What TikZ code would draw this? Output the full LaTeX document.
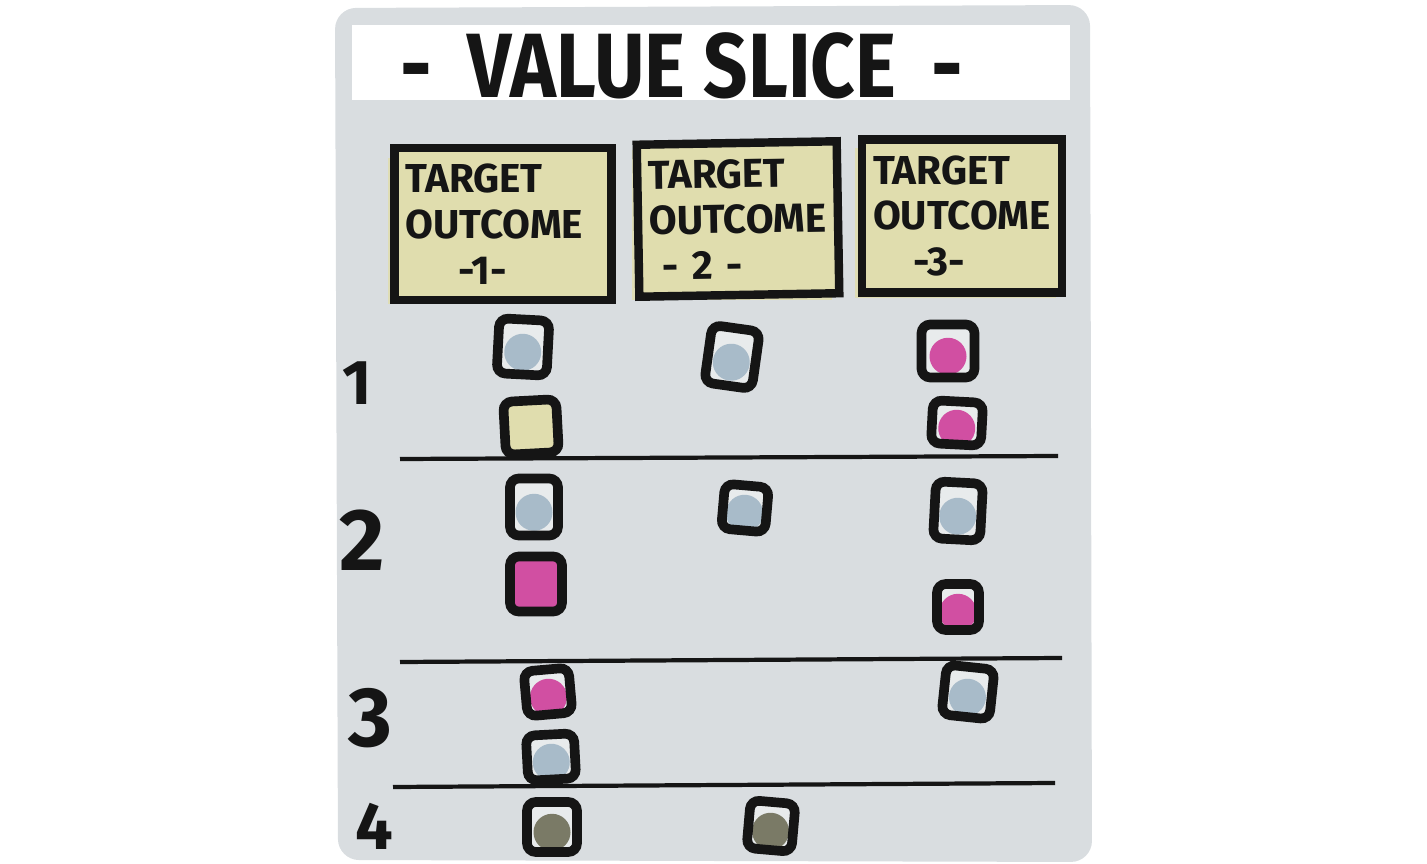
\documentclass[tikz,border=0pt]{standalone}
\usepackage{fontspec}
\setmainfont{Fira Sans}
\begin{document}
\definecolor{board}{HTML}{D9DDE0}
\definecolor{ink}{HTML}{151515}
\definecolor{cardyellow}{HTML}{E0DDAE}
\definecolor{chipblue}{HTML}{A8BBC9}
\definecolor{chippink}{HTML}{D14FA2}
\definecolor{chipolive}{HTML}{7A7A66}
\begin{tikzpicture}[x=0.02cm,y=-0.02cm,
  hand/.style={font=\bfseries, text=ink},
  target/.style={draw=ink, fill=cardyellow, line width=4.8pt, inner xsep=0.22cm,
    align=left, font=\bfseries\fontsize{23}{26}\selectfont, text=ink},
  halo/.style={fill=cardyellow!85!board},
  chip/.style={draw=ink, line width=5.5pt, rounded corners=5pt, fill=white!40!board,
    inner sep=0pt,
    path picture={\fill[#1] ([yshift=-3pt]path picture bounding box.center) circle (0.37cm);}},
  rule/.style={draw=ink, line width=2.4pt}
]
\useasboundingbox (0,0) rectangle (1427,864);

% the board and its title band
\fill[board, rounded corners=12pt] (335,8) -- (1090,5) -- (1092,862) -- (338,860) -- cycle;
\fill[white] (352,25) rectangle (1070,100);
\node[hand, font=\bfseries\fontsize{52}{56}\selectfont, xscale=0.85] (title) at (682,66)
  {-\hspace{0.45em}VALUE SLICE\hspace{0.45em}-};

% target outcome cards with their soft yellow wash
\fill[halo] (388,158) rectangle (606,304);
\fill[halo] (632,150) rectangle (832,300);
\fill[halo] (855,148) rectangle (1056,298);
\node[target, minimum width=4.34cm, minimum height=3.04cm, text width=3.9cm] (t1) at (503,224)
  {TARGET\\OUTCOME\\\hspace*{1.3em}-1-};
\node[target, minimum width=4.0cm, minimum height=3.04cm, text width=3.56cm, rotate=1] (t2) at (738,219)
  {TARGET\\OUTCOME\\\hspace*{0.3em}- 2 -};
\node[target, minimum width=4.0cm, minimum height=3.06cm, text width=3.56cm] (t3) at (962,216)
  {TARGET\\OUTCOME\\\hspace*{1.0em}-3-};

% row numbers
\node[hand, font=\bfseries\fontsize{36}{40}\selectfont] (n1) at (357,383) {1};
\node[hand, font=\bfseries\fontsize{50}{54}\selectfont] (n2) at (362,540) {2};
\node[hand, font=\bfseries\fontsize{48}{52}\selectfont] (n3) at (370,718) {3};
\node[hand, font=\bfseries\fontsize{38}{42}\selectfont] (n4) at (374,826) {4};

% row dividers
\coordinate (d1a) at (400,459); \coordinate (d1b) at (1058,456);
\coordinate (d2a) at (400,662); \coordinate (d2b) at (1062,658);
\coordinate (d3a) at (393,787); \coordinate (d3b) at (1055,783);
\draw[rule] (d1a) -- (d1b);
\draw[rule] (d2a) -- (d2b);
\draw[rule] (d3a) -- (d3b);

% row 1
\node[chip=chipblue, minimum width=1.0cm, minimum height=1.1cm, rotate=-3] (r1a) at (523,347) {};
\node[chip=chipblue, minimum width=0.96cm, minimum height=1.16cm, rotate=-8] (r1b) at (732,357) {};
\node[chip=cardyellow, fill=cardyellow, minimum width=1.06cm, minimum height=1.06cm, rotate=3] (r1c) at (531,427) {};
\node[chip=chippink, minimum width=1.06cm, minimum height=1.06cm] (r1d) at (948,351) {};
\node[chip=chippink, minimum width=1.0cm, minimum height=0.86cm, rotate=-3] (r1e) at (957,423) {};

% row 2
\node[chip=chipblue, minimum width=0.96cm, minimum height=1.14cm] (r2a) at (534,507) {};
\node[chip=chipblue, minimum width=0.88cm, minimum height=0.9cm, rotate=-5] (r2b) at (745,508) {};
\node[chip=chipblue, minimum width=0.94cm, minimum height=1.14cm, rotate=-3] (r2c) at (958,511) {};
\node[chip=chippink, fill=chippink, minimum width=1.04cm, minimum height=1.1cm] (r2d) at (536,584) {};
\node[chip=chippink, minimum width=0.84cm, minimum height=0.92cm] (r2e) at (958,607) {};

% row 3
\node[chip=chippink, minimum width=0.9cm, minimum height=0.9cm, rotate=5] (r3a) at (548,692) {};
\node[chip=chipblue, minimum width=0.96cm, minimum height=1.0cm, rotate=-6] (r3b) at (968,692) {};
\node[chip=chipblue, minimum width=0.96cm, minimum height=0.9cm, rotate=3] (r3c) at (551,757) {};

% row 4
\node[chip=chipolive, minimum width=1.0cm, minimum height=1.0cm] (r4a) at (552,827) {};
\node[chip=chipolive, minimum width=0.9cm, minimum height=0.96cm, rotate=-5] (r4b) at (771,826) {};
\end{tikzpicture}
\end{document}
